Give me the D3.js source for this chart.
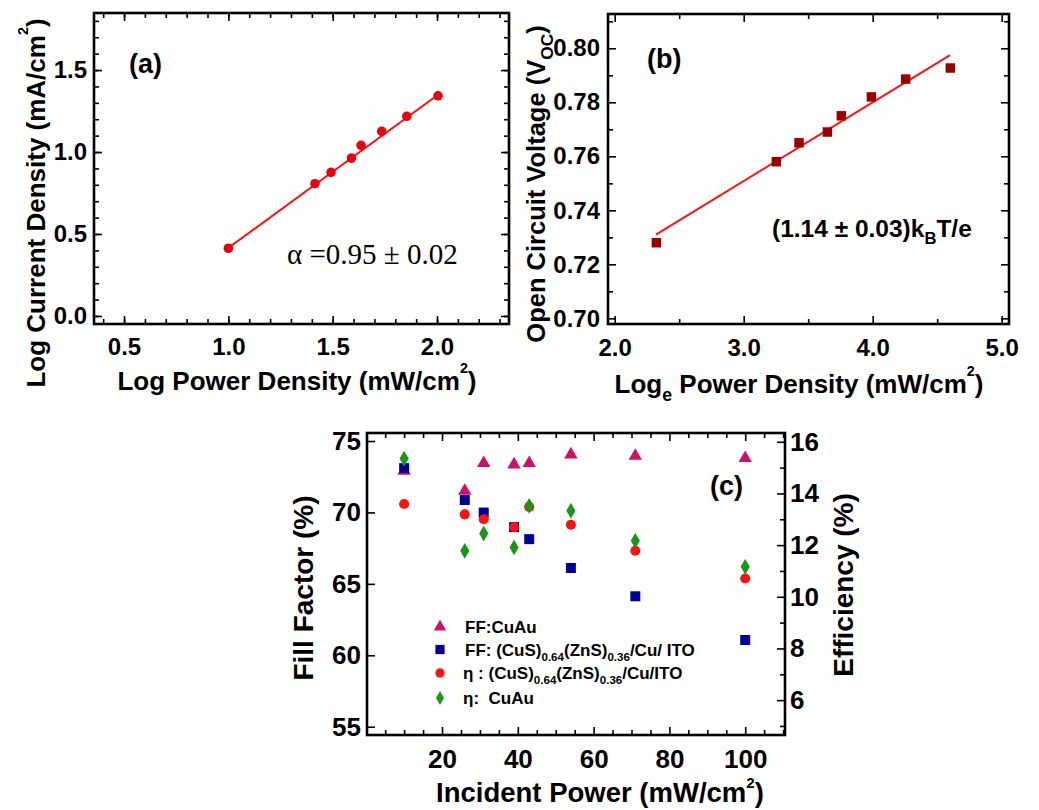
<!DOCTYPE html>
<html>
<head>
<meta charset="utf-8">
<script src="https://cdn.jsdelivr.net/npm/d3@7"></script>
<style>
  body { margin: 0; background: #fff; }
  svg { font-family: "Liberation Sans", Arial, sans-serif; font-weight: bold; }
</style>
</head>
<body>
<svg id="fig" width="1039" height="810"></svg>
<script>
// --- Data: panel (a) log J vs log P ---
const logPowerA = [1.0, 1.415, 1.492, 1.59, 1.636, 1.735, 1.855, 2.005];
const logCurrentA = [0.413, 0.807, 0.876, 0.963, 1.041, 1.126, 1.218, 1.343];
const fitAx = [1.0, 2.0];
const fitAy = [0.415, 1.345];

// --- Data: panel (b) Voc vs ln P ---
const lnPowerB = [2.323, 3.253, 3.429, 3.649, 3.757, 3.99, 4.256, 4.602];
const vocB = [0.728, 0.758, 0.765, 0.769, 0.775, 0.782, 0.7886, 0.7927];
const fitBx = [2.32, 4.6];
const fitBy = [0.731, 0.7975];

// --- Data: panel (c) FF and efficiency vs incident power ---
const incidentPower = [10, 26, 31, 39, 43, 54, 71, 100];
const ffCuAu = [72.9, 71.5, 73.45, 73.35, 73.45, 74.05, 73.95, 73.8];
const ffCuS = [73.1, 70.87, 69.99, 68.97, 68.13, 66.11, 64.13, 61.07];
const effCuS = [13.59, 13.19, 13.0, 12.69, 13.48, 12.79, 11.78, 10.71];
const effCuAu = [15.35, 11.78, 12.45, 11.91, 13.52, 13.33, 12.17, 11.16];

const FONT = '"Liberation Sans", Arial, sans-serif';
const svg = d3.select('#fig');

// --- Helpers ---
// text with sub/superscript parts: [string, 'n'|'sub'|'sup']
function rich(text, parts, fs, supShift = 0.65) {
  let shift = 0;
  parts.forEach(([s, k]) => {
    const target = k === 'sub' ? fs * 0.3 : k === 'sup' ? -fs * supShift : 0;
    const t = text.append('tspan').text(s).attr('dy', target - shift);
    if (k !== 'n') t.attr('font-size', fs * (k === 'sup' ? 0.55 : 0.68));
    shift = target;
  });
  return text;
}

function styleAxis(g, fs) {
  g.attr('font-family', FONT).attr('font-size', fs).attr('font-weight', 'bold');
  g.select('.domain').remove();
  g.selectAll('.tick line').attr('stroke', '#000').attr('stroke-width', 1.6);
  g.selectAll('.tick text').attr('fill', '#000');
}

function frame(box, x, y, cfg) {
  const g = svg.append('g');
  const w = box.x1 - box.x0, h = box.y1 - box.y0;
  const bottom = g.append('g').attr('transform', `translate(0,${box.y1})`);
  bottom.call(d3.axisBottom(x).tickValues(cfg.xMinor).tickSize(-5).tickFormat(''));
  styleAxis(bottom, cfg.fs);
  const bottomMaj = g.append('g').attr('transform', `translate(0,${box.y1})`)
    .call(d3.axisBottom(x).tickValues(cfg.xMajor).tickSize(-8).tickPadding(cfg.xPad).tickFormat(cfg.xFmt));
  styleAxis(bottomMaj, cfg.fs);

  const top = g.append('g').attr('transform', `translate(0,${box.y0})`)
    .call(d3.axisTop(x).tickValues(cfg.xMinor).tickSize(-5).tickFormat(''));
  styleAxis(top, cfg.fs);
  const topMaj = g.append('g').attr('transform', `translate(0,${box.y0})`)
    .call(d3.axisTop(x).tickValues(cfg.xMajor).tickSize(-8).tickFormat(''));
  styleAxis(topMaj, cfg.fs);

  const left = g.append('g').attr('transform', `translate(${box.x0},0)`)
    .call(d3.axisLeft(y).tickValues(cfg.yMinor).tickSize(-5).tickFormat(''));
  styleAxis(left, cfg.fs);
  const leftMaj = g.append('g').attr('transform', `translate(${box.x0},0)`)
    .call(d3.axisLeft(y).tickValues(cfg.yMajor).tickSize(-8).tickPadding(cfg.yPad).tickFormat(cfg.yFmt));
  styleAxis(leftMaj, cfg.fs);

  const yR = cfg.yR || y;
  const right = g.append('g').attr('transform', `translate(${box.x1},0)`)
    .call(d3.axisRight(yR).tickValues(cfg.yRMinor || cfg.yMinor).tickSize(-5).tickFormat(''));
  styleAxis(right, cfg.fs);
  const rightMaj = g.append('g').attr('transform', `translate(${box.x1},0)`)
    .call(d3.axisRight(yR).tickValues(cfg.yRMajor || cfg.yMajor).tickSize(-8)
      .tickPadding(cfg.yRPad || 3).tickFormat(cfg.yRFmt || ''));
  styleAxis(rightMaj, cfg.fs);

  g.append('rect')
    .attr('x', box.x0).attr('y', box.y0).attr('width', w).attr('height', h)
    .attr('fill', 'none').attr('stroke', '#000').attr('stroke-width', 2.6);
  return g;
}

function tenths(a, b) { return d3.range(a, b + 1).map(i => i / 10); }

// ============================================================
// Panel (a)
// ============================================================
const boxA = { x0: 94, y0: 13, x1: 509, y1: 324 };
const xA = d3.scaleLinear().domain([0.356, 2.345]).range([boxA.x0, boxA.x1]);
const yA = d3.scaleLinear().domain([-0.049, 1.848]).range([boxA.y1, boxA.y0]);
frame(boxA, xA, yA, {
  fs: 24,
  xMajor: [0.5, 1.0, 1.5, 2.0], xMinor: tenths(4, 23), xPad: 14, xFmt: d3.format('.1f'),
  yMajor: [0, 0.5, 1.0, 1.5], yMinor: tenths(0, 18), yPad: 7, yFmt: d3.format('.1f')
});

svg.append('path')
  .attr('d', d3.line().x(d => xA(d[0])).y(d => yA(d[1]))(d3.zip(fitAx, fitAy)))
  .attr('fill', 'none').attr('stroke', '#ff1010').attr('stroke-width', 2);
svg.append('g').selectAll('path')
  .data(d3.zip(logPowerA, logCurrentA))
  .join('path')
  .attr('transform', d => `translate(${xA(d[0])},${yA(d[1])})`)
  .attr('d', d3.symbol(d3.symbolCircle, 72))
  .attr('fill', '#e80010');

svg.append('text').attr('x', 129).attr('y', 73).attr('font-size', 27).text('(a)');
svg.append('text').attr('x', 287).attr('y', 264)
  .attr('font-family', '"Liberation Serif", "Times New Roman", serif')
  .attr('font-weight', 'normal').attr('font-size', 29)
  .text('\u03b1 =0.95 \u00b1 0.02');

rich(svg.append('text').attr('x', 297).attr('y', 390).attr('text-anchor', 'middle').attr('font-size', 26),
  [['Log Power Density (mW/cm', 'n'], ['2', 'sup'], [')', 'n']], 26);
rich(svg.append('text').attr('transform', 'translate(45,203) rotate(-90)').attr('text-anchor', 'middle').attr('font-size', 26),
  [['Log Current Density (mA/cm', 'n'], ['2', 'sup'], [')', 'n']], 26);

// ============================================================
// Panel (b)
// ============================================================
const boxB = { x0: 608, y0: 14, x1: 1009, y1: 324 };
const xB = d3.scaleLinear().domain([1.948, 5.057]).range([boxB.x0, boxB.x1]);
const yB = d3.scaleLinear().domain([0.6979, 0.8127]).range([boxB.y1, boxB.y0]);
frame(boxB, xB, yB, {
  fs: 24,
  xMajor: [2, 3, 4, 5], xMinor: [2.5, 3.5, 4.5], xPad: 15, xFmt: d3.format('.1f'),
  yMajor: d3.range(70, 81, 2).map(v => v / 100), yMinor: d3.range(71, 82, 2).map(v => v / 100),
  yPad: 8, yFmt: d3.format('.2f')
});

svg.append('path')
  .attr('d', d3.line().x(d => xB(d[0])).y(d => yB(d[1]))(d3.zip(fitBx, fitBy)))
  .attr('fill', 'none').attr('stroke', '#ff1010').attr('stroke-width', 2);
svg.append('g').selectAll('path')
  .data(d3.zip(lnPowerB, vocB))
  .join('path')
  .attr('transform', d => `translate(${xB(d[0])},${yB(d[1])})`)
  .attr('d', d3.symbol(d3.symbolSquare, 90))
  .attr('fill', '#9a0000');

svg.append('text').attr('x', 647).attr('y', 68).attr('font-size', 27).text('(b)');
rich(svg.append('text').attr('x', 772).attr('y', 237).attr('font-size', 24.5),
  [['(1.14 \u00b1 0.03)k', 'n'], ['B', 'sub'], ['T/e', 'n']], 24.5);

rich(svg.append('text').attr('x', 799).attr('y', 393).attr('text-anchor', 'middle').attr('font-size', 26),
  [['Log', 'n'], ['e', 'sub'], [' Power Density (mW/cm', 'n'], ['2', 'sup'], [')', 'n']], 26);
rich(svg.append('text').attr('transform', 'translate(545,184) rotate(-90)').attr('text-anchor', 'middle').attr('font-size', 25.5),
  [['Open Circuit Voltage (V', 'n'], ['OC', 'sub'], [')', 'n']], 25.5);

// ============================================================
// Panel (c)
// ============================================================
const boxC = { x0: 367, y0: 433, x1: 785, y1: 735 };
const xC = d3.scaleLinear().domain([0.2, 110.5]).range([boxC.x0, boxC.x1]);
const yFF = d3.scaleLinear().domain([54.42, 75.56]).range([boxC.y1, boxC.y0]);
const yEff = d3.scaleLinear().domain([4.65, 16.34]).range([boxC.y1, boxC.y0]);
frame(boxC, xC, yFF, {
  fs: 26,
  xMajor: [20, 40, 60, 80, 100], xMinor: d3.range(5, 111, 5).filter(v => v % 20 !== 0), xPad: 15, xFmt: d3.format('d'),
  yMajor: [55, 60, 65, 70, 75], yMinor: [], yPad: 6, yFmt: d3.format('d'),
  yR: yEff, yRMajor: [6, 8, 10, 12, 14, 16], yRMinor: [5, 7, 9, 11, 13, 15], yRPad: 5, yRFmt: d3.format('d')
});

const seriesC = [
  { name: 'ff-cuau', vals: ffCuAu, y: yFF, sym: d3.symbolTriangle, size: 78, color: '#cc1166' },
  { name: 'ff-cus', vals: ffCuS, y: yFF, sym: d3.symbolSquare, size: 100, color: '#000099' },
  { name: 'eff-cus', vals: effCuS, y: yEff, sym: d3.symbolCircle, size: 80, color: '#ff1111' },
  { name: 'eff-cuau', vals: effCuAu, y: yEff, sym: d3.symbolDiamond, size: 72, color: '#1b961b' }
];

seriesC.forEach(s => {
  svg.append('g').attr('class', s.name).selectAll('path')
    .data(d3.zip(incidentPower, s.vals))
    .join('path')
    .attr('transform', d => `translate(${xC(d[0])},${s.y(d[1])})`)
    .attr('d', d3.symbol(s.sym, s.size))
    .attr('fill', s.color);
});

svg.append('text').attr('x', 710).attr('y', 495).attr('font-size', 27).text('(c)');

// Legend
const legendRows = [
  { sy: 627, tx: 465, parts: [['FF:CuAu', 'n']] },
  { sy: 649.5, tx: 465, parts: [['FF: (CuS)', 'n'], ['0.64', 'sub'], ['(ZnS)', 'n'], ['0.36', 'sub'], ['/Cu/ ITO', 'n']] },
  { sy: 673, tx: 463, parts: [['\u03b7 : (CuS)', 'n'], ['0.64', 'sub'], ['(ZnS)', 'n'], ['0.36', 'sub'], ['/Cu/ITO', 'n']] },
  { sy: 698, tx: 463, parts: [['\u03b7:  CuAu', 'n']] }
];
legendRows.forEach((row, i) => {
  const s = seriesC[i];
  svg.append('path')
    .attr('transform', `translate(440,${row.sy})`)
    .attr('d', d3.symbol(s.sym, i === 3 ? 55 : s.size * 0.85))
    .attr('fill', s.color);
  rich(svg.append('text').attr('x', row.tx).attr('y', row.sy + 6).attr('font-size', 17)
    .style('white-space', 'pre'), row.parts, 17);
});

rich(svg.append('text').attr('x', 600).attr('y', 802).attr('text-anchor', 'middle').attr('font-size', 27.5),
  [['Incident Power (mW/cm', 'n'], ['2', 'sup'], [')', 'n']], 27.5, 0.5);
svg.append('text').attr('transform', 'translate(313,588) rotate(-90)').attr('text-anchor', 'middle')
  .attr('font-size', 28).text('Fill Factor (%)');
svg.append('text').attr('transform', 'translate(853,585) rotate(-90)').attr('text-anchor', 'middle')
  .attr('font-size', 28).text('Efficiency (%)');
</script>
</body>
</html>
